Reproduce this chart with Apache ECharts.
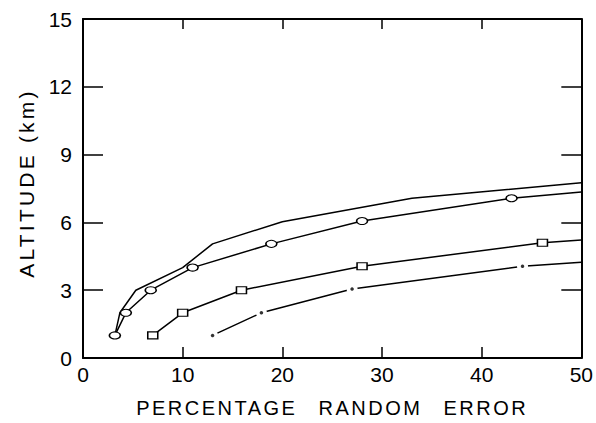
<!DOCTYPE html>
<html>
<head>
<meta charset="utf-8">
<script src="https://cdn.jsdelivr.net/npm/echarts@6/dist/echarts.min.js"></script>
<style>
  html, body { margin: 0; padding: 0; background: #fff; }
  #chart { width: 596px; height: 423px; }
</style>
</head>
<body>
<div id="chart"></div>
<script>
// upper envelope, no markers
const envX = [3.2, 3.7, 5.3, 10, 13, 20, 33, 50]
const envY = [1, 2, 3, 4, 5.05, 6.03, 7.07, 7.75]
// ellipse markers
const ovalX = [3.2, 4.3, 6.8, 11, 18.9, 28, 43, 50]
const ovalY = [1, 2, 3, 4, 5.05, 6.06, 7.07, 7.35]
// square markers
const sqX = [7, 10, 15.9, 28, 46.1, 50]
const sqY = [1, 2, 3, 4.06, 5.1, 5.22]
// dot markers
const dotX = [13, 17.9, 27, 44.1, 50]
const dotY = [1, 2, 3.05, 4.06, 4.24]

const xTicks = [0, 10, 20, 30, 40, 50]
const yTicks = [0, 3, 6, 9, 12, 15]

const FONT = "'Liberation Sans', Arial, sans-serif"
const X_NAME = "PERCENTAGE RANDOM ERROR"
const Y_NAME = "ALTITUDE (km)"

// last point of each curve is just where the line leaves the frame
function pts(xs, ys) {
  return xs.map((x, i) => {
    if (i === xs.length - 1) return { value: [x, ys[i]], symbol: "none" }
    return [x, ys[i]]
  })
}

const myChart = echarts.init(document.getElementById("chart"), null, { renderer: "svg" })

let axisBase = {
  min: 0,
  axisLine: { show: true, onZero: false, lineStyle: { color: "#000", width: 2 } },
  splitLine: { show: false }
}

let option = {
  animation: false,
  backgroundColor: "#fff",
  grid: { left: 83, right: 12, top: 19, bottom: 65 },
  graphic: [
    {
      type: "text",
      x: 26,
      y: 183,
      rotation: Math.PI / 2,
      style: {
        text: Y_NAME,
        fill: "#000",
        font: "21px " + FONT,
        align: "center",
        verticalAlign: "middle"
      }
    }
  ],
  xAxis: [
    Object.assign({}, axisBase, {
      type: "value",
      position: "bottom",
      max: 50,
      interval: 10,
      axisTick: { show: true, inside: true, length: 11, lineStyle: { color: "#000", width: 1.5 } },
      axisLabel: {
        color: "#000",
        fontSize: 21,
        fontFamily: FONT,
        margin: 6,
        formatter: (v) => (xTicks.includes(v) ? String(v) : "")
      },
      name: X_NAME,
      nameLocation: "middle",
      nameGap: 40,
      nameTextStyle: { color: "#000", fontSize: 20, fontFamily: FONT }
    }),
    Object.assign({}, axisBase, {
      type: "value",
      position: "top",
      max: 50,
      interval: 10,
      axisTick: { show: true, inside: true, length: 10, lineStyle: { color: "#000", width: 1.5 } },
      axisLabel: { show: false }
    })
  ],
  yAxis: [
    Object.assign({}, axisBase, {
      type: "value",
      position: "left",
      max: 15,
      interval: 3,
      axisTick: { show: true, inside: true, length: 20, lineStyle: { color: "#000", width: 1.5 } },
      axisLabel: {
        color: "#000",
        fontSize: 21,
        fontFamily: FONT,
        margin: 11,
        formatter: (v) => (yTicks.includes(v) ? String(v) : "")
      }
    }),
    Object.assign({}, axisBase, {
      type: "value",
      position: "right",
      max: 15,
      interval: 3,
      axisTick: { show: true, inside: true, length: 20, lineStyle: { color: "#000", width: 1.5 } },
      axisLabel: { show: false }
    })
  ],
  series: [
    {
      type: "line",
      data: pts(envX, envY),
      showSymbol: false,
      symbol: "none",
      lineStyle: { color: "#000", width: 1.5 }
    },
    {
      type: "line",
      data: pts(ovalX, ovalY),
      symbol: "circle",
      symbolSize: [11, 7],
      itemStyle: { color: "#fff", borderColor: "#000", borderWidth: 1.3 },
      lineStyle: { color: "#000", width: 1.5 },
      z: 3
    },
    {
      type: "line",
      data: pts(sqX, sqY),
      symbol: "rect",
      symbolSize: [10, 7],
      itemStyle: { color: "#fff", borderColor: "#000", borderWidth: 1.3 },
      lineStyle: { color: "#000", width: 1.5 },
      z: 3
    },
    {
      // white disc breaks the line around each dot
      type: "line",
      data: pts(dotX, dotY),
      symbol: "circle",
      symbolSize: 11,
      itemStyle: { color: "#fff", borderWidth: 0 },
      lineStyle: { color: "#000", width: 1.5 },
      z: 3
    },
    {
      type: "scatter",
      data: dotX.slice(0, -1).map((x, i) => [x, dotY[i]]),
      symbol: "circle",
      symbolSize: 3.5,
      itemStyle: { color: "#000" },
      z: 4
    }
  ]
}

myChart.setOption(option)

// wide letter spacing of the scanned axis titles
document.querySelectorAll("#chart text").forEach((t) => {
  if (t.textContent === X_NAME) {
    t.style.letterSpacing = "2.5px"
    t.style.wordSpacing = "13px"
  }
  if (t.textContent === Y_NAME) {
    t.style.letterSpacing = "3.2px"
  }
})
</script>
</body>
</html>
